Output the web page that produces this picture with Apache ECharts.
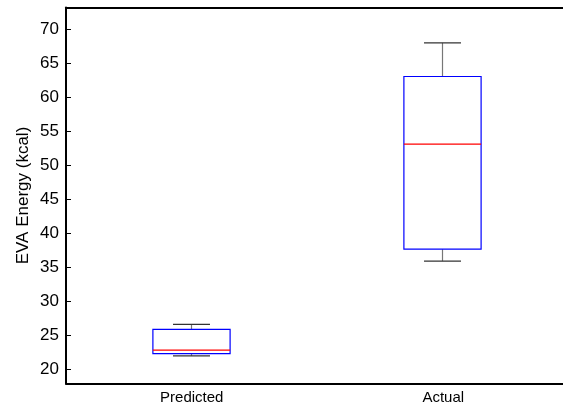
<!DOCTYPE html>
<html>
<head>
<meta charset="utf-8">
<script src="https://cdn.jsdelivr.net/npm/echarts@6/dist/echarts.min.js"></script>
<style>html,body{margin:0;padding:0;background:#fff;overflow:hidden}#c{width:572px;height:406px}</style>
</head>
<body>
<div id="c"></div>
<script>
var categories = ['Predicted', 'Actual'];
// [lower whisker, Q1, median, Q3, upper whisker]
var predictedStats = [21.95, 22.3, 22.8, 25.85, 26.6];
var actualStats = [35.9, 37.65, 53.1, 63.05, 68.0];
var yTicks = [20, 25, 30, 35, 40, 45, 50, 55, 60, 65, 70];
var yMin = 17.9, yMax = 73.2;

var chart = echarts.init(document.getElementById('c'), null, {renderer: 'canvas'});
var statsList = [predictedStats, actualStats];
var seriesData = statsList.map(function (s, i) { return [i].concat(s); });

function renderItem(params, api) {
  var idx = api.value(0);
  var band = api.size([1, 0])[0];
  var boxHalf = band * 0.1535;
  var capHalf = band * 0.0735;
  var pLo = api.coord([idx, api.value(1)]);
  var pQ1 = api.coord([idx, api.value(2)]);
  var pMed = api.coord([idx, api.value(3)]);
  var pQ3 = api.coord([idx, api.value(4)]);
  var pHi = api.coord([idx, api.value(5)]);
  var cx = Math.round(pQ1[0]) - 0.5;
  var whiskerStyle = {stroke: '#777', lineWidth: 1.2};
  var capStyle = {stroke: '#333', lineWidth: 1.2};
  return {
    type: 'group',
    children: [
      {type: 'line', shape: {x1: cx, y1: pQ3[1], x2: cx, y2: pHi[1]}, style: whiskerStyle},
      {type: 'line', shape: {x1: cx, y1: pQ1[1], x2: cx, y2: pLo[1]}, style: whiskerStyle},
      {type: 'line', shape: {x1: cx - capHalf, y1: pHi[1], x2: cx + capHalf, y2: pHi[1]}, style: capStyle},
      {type: 'line', shape: {x1: cx - capHalf, y1: pLo[1], x2: cx + capHalf, y2: pLo[1]}, style: capStyle},
      {type: 'rect', shape: {x: cx - boxHalf, y: pQ3[1], width: boxHalf * 2, height: pQ1[1] - pQ3[1]},
        style: {fill: 'none', stroke: '#0000ff', lineWidth: 1.2}},
      {type: 'line', shape: {x1: cx - boxHalf, y1: pMed[1], x2: cx + boxHalf, y2: pMed[1]},
        style: {stroke: '#ff0000', lineWidth: 1.2}}
    ]
  };
}

var font = 'Liberation Sans, Arial, sans-serif';
chart.setOption({
  animation: false,
  backgroundColor: '#fff',
  grid: {left: 66, top: 7.5, width: 503, bottom: 22.5, show: false},
  xAxis: [{
    type: 'category',
    data: categories,
    boundaryGap: true,
    axisLine: {show: true, lineStyle: {color: '#000', width: 2}},
    axisTick: {show: false},
    axisLabel: {color: '#000', fontSize: 15, fontFamily: font, margin: 7},
    splitLine: {show: false}
  }, {
    type: 'category',
    position: 'top',
    data: categories,
    axisLine: {show: true, lineStyle: {color: '#000', width: 2}},
    axisTick: {show: false},
    axisLabel: {show: false},
    splitLine: {show: false}
  }],
  yAxis: {
    type: 'value',
    min: yMin,
    max: yMax,
    name: 'EVA Energy (kcal)',
    nameLocation: 'middle',
    nameGap: 34,
    nameMoveOverlap: false,
    nameTextStyle: {color: '#000', fontSize: 17, fontFamily: font},
    axisLine: {show: true, lineStyle: {color: '#000', width: 2}},
    axisTick: {show: true, inside: true, length: 5, customValues: yTicks, lineStyle: {color: '#000'}},
    axisLabel: {color: '#000', fontSize: 17, fontFamily: font, margin: 7, customValues: yTicks},
    splitLine: {show: false}
  },
  series: [{
    type: 'custom',
    renderItem: renderItem,
    encode: {x: 0, y: [1, 2, 3, 4, 5]},
    data: seriesData
  }]
});
</script>
</body>
</html>
